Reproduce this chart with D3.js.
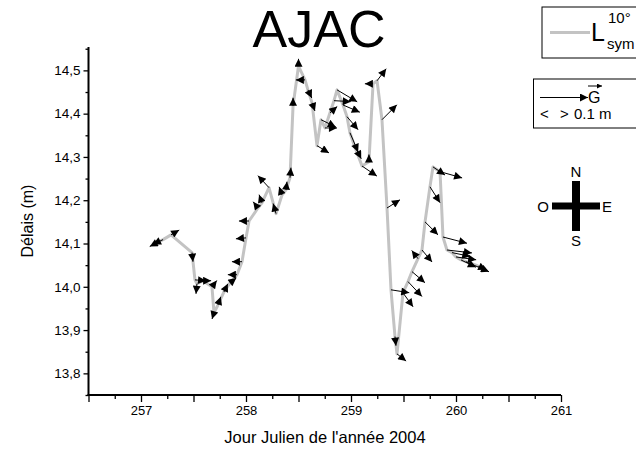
<!DOCTYPE html>
<html>
<head>
<meta charset="utf-8">
<script src="https://cdn.jsdelivr.net/npm/d3@7"></script>
<style>
  body { margin: 0; background: #fff; }
  svg { display: block; font-family: "Liberation Sans", Arial, sans-serif; }
</style>
</head>
<body>
<div id="chart"></div>
<script>
'use strict'

////////////////////////////////////////
//////////////// Data //////////////////
////////////////////////////////////////

// julian day (2004)
const days = [
  257.152, 257.210, 257.286, 257.486, 257.514, 257.533, 257.590, 257.676, 257.695, 257.733,
  257.790, 257.848, 257.914, 257.962, 258.000, 258.029, 258.114, 258.152, 258.219, 258.286,
  258.343, 258.381, 258.419, 258.448, 258.500, 258.562, 258.590, 258.629, 258.676, 258.714,
  258.752, 258.800, 258.838, 258.867, 258.924, 258.962, 258.990, 259.029, 259.105, 259.171,
  259.210, 259.248, 259.295, 259.343, 259.381, 259.419, 259.438, 259.495, 259.543, 259.581,
  259.638, 259.676, 259.705, 259.752, 259.781, 259.848, 259.876, 259.914, 259.962, 260.000,
  260.048, 260.095, 260.210
];

// delay L sym 10° (m)
const delays = [
  14.102, 14.109, 14.120, 14.079, 14.016, 14.007, 14.014, 14.000, 13.940, 13.958,
  13.988, 14.009, 14.028, 14.058, 14.113, 14.152, 14.182, 14.194, 14.229, 14.169,
  14.212, 14.224, 14.252, 14.418, 14.510, 14.478, 14.455, 14.425, 14.326, 14.386,
  14.367, 14.402, 14.430, 14.455, 14.420, 14.393, 14.356, 14.328, 14.279, 14.289,
  14.469, 14.476, 14.386, 14.182, 13.993, 13.885, 13.845, 13.986, 14.012, 14.035,
  14.065, 14.085, 14.150, 14.231, 14.277, 14.266, 14.115, 14.085, 14.079, 14.069,
  14.062, 14.058, 14.048
];

// gradient vector G, east component (m)
const gEast = [
  -0.015, -0.021, 0.017, 0.002, 0.023, -0.002, 0.017, 0.010, -0.004, 0.006,
  0.008, 0.013, -0.019, -0.021, -0.021, -0.021, -0.010, -0.006, -0.023, -0.006,
  -0.006, 0.002, 0.002, 0.000, 0.000, -0.019, 0.008, 0.006, 0.025, 0.031,
  0.025, 0.015, 0.035, 0.042, 0.035, 0.023, 0.017, 0.015, 0.031, 0.000,
  -0.017, 0.019, 0.031, 0.027, 0.038, 0.002, 0.019, 0.021, 0.029, 0.027,
  -0.013, 0.021, 0.027, 0.021, 0.025, 0.046, 0.050, 0.052, 0.038, 0.042,
  0.031, 0.048, 0.017
];

// gradient vector G, north component (m)
const gNorth = [
  -0.008, -0.010, 0.010, -0.019, -0.002, -0.021, 0.000, 0.013, -0.013, 0.017,
  0.017, 0.010, 0.000, 0.000, -0.002, 0.000, 0.013, 0.017, 0.025, 0.021,
  0.017, 0.017, 0.021, 0.017, 0.015, 0.000, -0.017, -0.017, -0.015, -0.015,
  0.000, 0.013, -0.002, -0.025, -0.015, -0.027, -0.040, -0.029, -0.021, 0.015,
  0.000, 0.025, 0.031, 0.017, -0.006, -0.019, -0.015, -0.029, -0.031, -0.023,
  0.017, -0.025, -0.027, -0.033, -0.017, -0.013, -0.013, -0.006, -0.008, -0.006,
  -0.015, -0.021, -0.008
];

const xTickLabels = [257, 258, 259, 260, 261];
const yTickLabels = [13.8, 13.9, 14.0, 14.1, 14.2, 14.3, 14.4, 14.5];

const data = days.map((d, i) => ({
  day: d,
  delay: delays[i],
  ge: gEast[i],
  gn: gNorth[i]
}));

////////////////////////////////////////
/////////////// Options ////////////////
////////////////////////////////////////

const options = {
  width: 636,
  height: 451,
  left: 88.5,
  right: 561,
  top: 47,
  bottom: 395,
  line: "#c3c3c3",
  font: "'Liberation Sans', Arial, sans-serif"
};

////////////////////////////////////////
////////////// SVG Setup ///////////////
////////////////////////////////////////

const svg = d3.select('#chart')
  .append('svg')
  .attr('width', options.width)
  .attr('height', options.height)
  .attr('viewBox', `0 0 ${options.width} ${options.height}`);

const defs = svg.append('defs');

defs.append('marker')
  .attr('id', 'head')
  .attr('viewBox', '0 0 10 10')
  .attr('refX', 10)
  .attr('refY', 5)
  .attr('markerWidth', 11)
  .attr('markerHeight', 8)
  .attr('markerUnits', 'userSpaceOnUse')
  .attr('orient', 'auto')
  .append('path')
  .attr('d', 'M0,0L10,5L0,10z')
  .attr('fill', '#000');

defs.append('marker')
  .attr('id', 'small-head')
  .attr('viewBox', '0 0 10 10')
  .attr('refX', 10)
  .attr('refY', 5)
  .attr('markerWidth', 8)
  .attr('markerHeight', 5)
  .attr('markerUnits', 'userSpaceOnUse')
  .attr('orient', 'auto')
  .append('path')
  .attr('d', 'M0,0L10,5L0,10z')
  .attr('fill', '#000');

////////////////////////////////////////
/////////////// Scales /////////////////
////////////////////////////////////////

const x = d3.scaleLinear()
  .domain([256.5, 261])
  .range([options.left, options.right]);

const y = d3.scaleLinear()
  .domain([13.75, 14.554])
  .range([options.bottom, options.top]);

// 0.1 m of G drawn as 48 px
const vec = d3.scaleLinear()
  .domain([0, 0.1])
  .range([0, 48]);

////////////////////////////////////////
//////////////// Axes //////////////////
////////////////////////////////////////

const xAxis = svg.append('g')
  .attr('transform', `translate(0,${options.bottom})`)
  .call(d3.axisBottom(x)
    .tickValues(d3.range(256.5, 261.01, 0.25))
    .tickSize(4)
    .tickFormat(d => xTickLabels.includes(d) ? d : ''));

xAxis.select('.domain').attr('stroke-width', 2).attr('d', `M${options.left - 1},0H${options.right}`);
xAxis.selectAll('.tick line')
  .attr('stroke-width', 1.3)
  .attr('y2', d => (d * 2) % 1 === 0 ? 7 : 4);
xAxis.selectAll('.tick text')
  .attr('y', 11)
  .attr('font-size', 13)
  .attr('font-family', options.font);

const yAxis = svg.append('g')
  .attr('transform', `translate(${options.left},0)`)
  .call(d3.axisLeft(y)
    .tickValues(d3.range(13.75, 14.56, 0.05))
    .tickSize(4)
    .tickFormat(d => yTickLabels.some(v => Math.abs(v - d) < 1e-6) ? d3.format('.1f')(d).replace('.', ',') : ''));

yAxis.select('.domain').attr('stroke-width', 2).attr('d', `M0,${options.bottom}V${options.top}`);
yAxis.selectAll('.tick line')
  .attr('stroke-width', 1.3)
  .attr('x2', d => yTickLabels.some(v => Math.abs(v - d) < 1e-6) ? -5 : -3);
yAxis.selectAll('.tick text')
  .attr('x', -8)
  .attr('font-size', 13.5)
  .attr('font-family', options.font);

svg.append('text')
  .attr('x', 325)
  .attr('y', 443)
  .attr('text-anchor', 'middle')
  .attr('font-size', 16.5)
  .text("Jour Julien de l'année 2004");

svg.append('text')
  .attr('transform', 'translate(33,221) rotate(-90)')
  .attr('text-anchor', 'middle')
  .attr('font-size', 16)
  .text('Délais (m)');

svg.append('text')
  .attr('x', 319)
  .attr('y', 47)
  .attr('text-anchor', 'middle')
  .attr('font-size', 52)
  .text('AJAC');

////////////////////////////////////////
/////////////// Marks //////////////////
////////////////////////////////////////

svg.append('path')
  .datum(data)
  .attr('fill', 'none')
  .attr('stroke', options.line)
  .attr('stroke-width', 3)
  .attr('stroke-linejoin', 'round')
  .attr('d', d3.line().x(d => x(d.day)).y(d => y(d.delay)));

svg.selectAll('.vector')
  .data(data)
  .join('line')
  .classed('vector', true)
  .attr('x1', d => x(d.day))
  .attr('y1', d => y(d.delay))
  .attr('x2', d => x(d.day) + vec(d.ge))
  .attr('y2', d => y(d.delay) - vec(d.gn))
  .attr('stroke', '#000')
  .attr('stroke-width', 1)
  .attr('marker-end', 'url(#head)');

////////////////////////////////////////
/////////////// Legend /////////////////
////////////////////////////////////////

const leg1 = svg.append('g');
leg1.append('rect')
  .attr('x', 542).attr('y', 7).attr('width', 120).attr('height', 51)
  .attr('fill', '#fff').attr('stroke', '#000').attr('stroke-width', 1);
leg1.append('line')
  .attr('x1', 550).attr('x2', 590).attr('y1', 32.5).attr('y2', 32.5)
  .attr('stroke', options.line).attr('stroke-width', 3);
leg1.append('text').attr('x', 591).attr('y', 41).attr('font-size', 25).text('L');
leg1.append('text').attr('x', 608).attr('y', 23).attr('font-size', 15).text('10°');
leg1.append('text').attr('x', 607).attr('y', 49).attr('font-size', 15).text('sym');

const leg2 = svg.append('g');
leg2.append('rect')
  .attr('x', 533.5).attr('y', 79).attr('width', 120).attr('height', 49)
  .attr('fill', '#fff').attr('stroke', '#000').attr('stroke-width', 1);
leg2.append('line')
  .attr('x1', 540).attr('x2', 540 + vec(0.1)).attr('y1', 97.5).attr('y2', 97.5)
  .attr('stroke', '#000').attr('stroke-width', 1)
  .attr('marker-end', 'url(#head)');
leg2.append('text').attr('x', 588).attr('y', 103).attr('font-size', 16).text('G');
leg2.append('line')
  .attr('x1', 588).attr('x2', 602).attr('y1', 86).attr('y2', 86)
  .attr('stroke', '#000').attr('stroke-width', 1)
  .attr('marker-end', 'url(#small-head)');
leg2.append('text').attr('x', 540).attr('y', 119).attr('font-size', 15).text('<');
leg2.append('text').attr('x', 560).attr('y', 119).attr('font-size', 15).text('>');
leg2.append('text').attr('x', 574).attr('y', 119).attr('font-size', 15).text('0.1 m');

// compass
const compass = svg.append('g').attr('transform', 'translate(576,206)');
compass.append('rect').attr('x', -4).attr('y', -25).attr('width', 8).attr('height', 50).attr('fill', '#000');
compass.append('rect').attr('x', -24).attr('y', -3.5).attr('width', 48).attr('height', 7).attr('fill', '#000');
compass.append('text').attr('x', 0).attr('y', -29).attr('text-anchor', 'middle').attr('font-size', 15).text('N');
compass.append('text').attr('x', 0).attr('y', 40).attr('text-anchor', 'middle').attr('font-size', 15).text('S');
compass.append('text').attr('x', -27).attr('y', 5.5).attr('text-anchor', 'end').attr('font-size', 15).text('O');
compass.append('text').attr('x', 26).attr('y', 5.5).attr('text-anchor', 'start').attr('font-size', 15).text('E');
</script>
</body>
</html>
